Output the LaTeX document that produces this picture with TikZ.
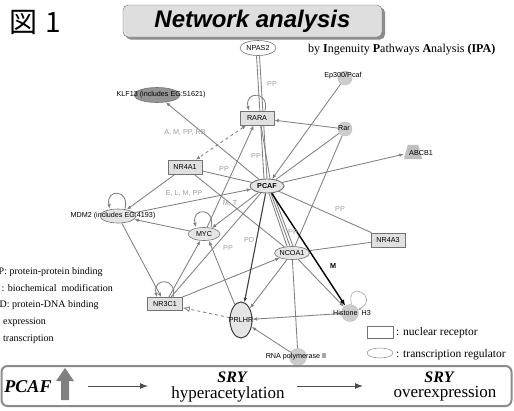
\documentclass[tikz,border=0pt]{standalone}
\usepackage{fontspec}
\setmainfont{Liberation Serif}
\setsansfont{Liberation Sans}
\newfontfamily\cjkfont{Noto Sans CJK JP}
\usetikzlibrary{shapes.geometric,arrows.meta}
\pgfdeclarelayer{bg}
\pgfdeclarelayer{paper}
\pgfsetlayers{paper,bg,main}
\begin{document}
\begin{tikzpicture}[x=1pt,y=-1pt,
  nfont/.style={font=\sffamily\fontsize{7.2}{8}\selectfont},
  nd/.style={nfont, draw=black!55, line width=0.6pt, inner sep=0pt},
  boxnd/.style={nd, rectangle, fill=black!12, minimum width=34pt, minimum height=14pt},
  ellnd/.style={nd, ellipse, fill=black!10, minimum width=32pt, minimum height=13pt},
  dotnd/.style={circle, fill=black!20, draw=black!25, minimum size=14pt, inner sep=0pt},
  lbl/.style={nfont, inner sep=0pt},
  elab/.style={font=\sffamily\fontsize{7.2}{8}\selectfont, text=black!38, inner sep=0pt},
  ed/.style={draw=black!50, line width=0.85pt},
  ar/.style={ed, -{Latex[length=4.5pt,width=3.6pt]}},
  legtxt/.style={font=\fontsize{10}{12}\selectfont, anchor=west, inner sep=0pt},
  legtxtr/.style={font=\fontsize{11.5}{13}\selectfont, anchor=west, inner sep=0pt},
  bigtxt/.style={font=\fontsize{17}{19}\selectfont, inner sep=0pt},
  srytxt/.style={font=\bfseries\itshape\fontsize{16}{18}\selectfont, inner sep=0pt},
  flow/.style={draw=black!70, line width=1pt, -{Latex[length=8pt,width=6pt]}}
]
\useasboundingbox (0,0) rectangle (514,410);
\begin{pgfonlayer}{paper}
\fill[white] (0,0) rectangle (514,410);
\end{pgfonlayer}

% header
\node[font=\cjkfont\fontsize{28}{30}\selectfont, anchor=west, inner sep=0pt] (fig) at (9,22) {図\hspace{8pt}1};
\fill[black!45, rounded corners=5pt] (125.5,7.5) rectangle (385,39.5);
\node[draw=black!55, fill=black!13, rounded corners=5pt, minimum width=259pt, minimum height=32pt, inner sep=0pt,
      font=\sffamily\bfseries\itshape\fontsize{24}{26}\selectfont] (title) at (252.5,21) {Network analysis};
\node[font=\fontsize{12}{14}\selectfont, anchor=west, inner sep=0pt] (ipa) at (308,50)
  {by \textbf{I}ngenuity \textbf{P}athways \textbf{A}nalysis \textbf{(IPA)}};

% network nodes
\node[nd, ellipse, fill=white, minimum width=36pt, minimum height=15pt] (npas) at (258,48) {NPAS2};
\node[nd, ellipse, fill=black!42, minimum width=46pt, minimum height=15pt] (klf) at (157,95) {};
\node[lbl] (klft) at (161,95) {KLF13 (includes EG:51621)};
\node[dotnd] (ep) at (345,78) {};
\node[lbl] (ept) at (343,76) {Ep300/Pcaf};
\node[boxnd] (rara) at (257,118) {RARA};
\node[dotnd] (rar) at (345,129) {};
\node[lbl] (rart) at (344,128) {Rar};
\node[minimum width=18pt, minimum height=14pt, inner sep=0pt] (abcb) at (413,152) {};
\fill[black!25] (abcb.south west) -- (abcb.south east) -- ([xshift=-4pt]abcb.north east) -- ([xshift=4pt]abcb.north west) -- cycle;
\node[lbl] (abcbt) at (421,153) {ABCB1};
\node[boxnd] (nra1) at (185,167) {NR4A1};
\node[ellnd, line width=0.9pt, minimum width=34pt, minimum height=14pt] (pcaf) at (267,186) {\textbf{PCAF}};
\node[nd, ellipse, fill=black!10, minimum width=36pt, minimum height=14pt] (mdm) at (118,216) {};
\node[lbl] (mdmt) at (113,216) {MDM2 (includes EG:4193)};
\node[ellnd] (myc) at (204,234) {MYC};
\node[ellnd, minimum width=34pt] (ncoa) at (292,253) {NCOA1};
\node[boxnd] (nra3) at (388,240) {NR4A3};
\node[boxnd, minimum width=35pt, minimum height=13pt] (nrc) at (165,304) {NR3C1};
\node[nd, ellipse, fill=black!10, draw=black!75, line width=1pt, minimum width=22pt, minimum height=36pt] (prl) at (241,320) {};
\node[lbl] (prlt) at (241,320) {PRLHR};
\node[dotnd, minimum size=17pt] (hist) at (350,313) {};
\node[lbl] (histt) at (352,313) {Histone\ \ H3};
\node[dotnd, minimum size=17pt] (rna) at (298,357) {};
\node[lbl] (rnat) at (296,357) {RNA polymerase II};

% edge labels
\node[elab] (l1) at (272,84) {PP};
\node[elab] (l2) at (185,132) {A, M, PP, RB};
\node[elab] (l3) at (256,156) {PP};
\node[elab] (l4) at (224,169) {PP};
\node[elab] (l5) at (184,193) {E, L, M, PP};
\node[elab] (l6) at (230,203) {M, T};
\node[elab] (l7) at (340,209) {PP};
\node[elab] (l8) at (293,232) {PP};
\node[elab] (l9) at (249,240) {PD};
\node[elab] (l10) at (228,248) {PP};
\node[font=\sffamily\bfseries\fontsize{7.2}{8}\selectfont, inner sep=0pt] (l11) at (333,266) {M};

\begin{pgfonlayer}{bg}
\draw[ed] ([xshift=-1.5pt]npas.south) -- ([xshift=-3pt]pcaf.north);
\draw[ed] ([xshift=1.5pt]npas.south) -- ([xshift=0pt]pcaf.north);
\draw[ar] ([xshift=8pt]rara.north) .. controls +(5,-20) and +(-5,-20) .. ([xshift=-8pt]rara.north);
\draw[ed] ([xshift=4pt]rara.south) -- ([xshift=3pt]pcaf.north);
\draw[ar] (pcaf) -- (klf);
\draw[ed, dashed, {Latex[length=4.5pt,width=3.6pt]}-{Latex[length=4.5pt,width=3.6pt]}] (rara) -- (nra1);
\draw[ar] (myc) -- (rara);
\draw[ar] (ep) -- (pcaf);
\draw[ar] (rar) -- (rara);
\draw[ed] (rar) -- (pcaf);
\draw[ed] (rar) -- (ncoa);
\draw[ar] (pcaf) -- (abcb);
\draw[ed] (pcaf) -- (nra3);
\draw[ed] (ncoa) -- (nra3);
\draw[ed] (nra1) -- (pcaf);
\draw[ar] (mdm) -- (pcaf);
\draw[ar] (nra1) -- (mdm);
\draw[ed] (nra1) -- (ncoa);
\draw[ar] ([xshift=7pt]mdm.north) .. controls +(5,-20) and +(-5,-20) .. ([xshift=-8pt]mdm.north);
\draw[ar] ([xshift=7pt]myc.north) .. controls +(5,-20) and +(-5,-20) .. ([xshift=-8pt]myc.north);
\draw[ar] ([xshift=8pt]nrc.north) .. controls +(5,-20) and +(-5,-20) .. ([xshift=-8pt]nrc.north);
\draw[ar] (myc) -- (mdm);
\draw[ar] (mdm) -- (nrc);
\draw[ar] (nrc) -- (myc);
\draw[ar] (prl) -- ([xshift=5pt]myc.south);
\draw[ar] (pcaf) -- (myc);
\draw[ar] (nrc) -- (ncoa);
\draw[ed] (nrc) -- (pcaf);
\draw[ar, draw=black!75, line width=1.1pt] (pcaf) -- (prl);
\draw[ed] ([xshift=2pt]pcaf.south) -- ([xshift=-5pt]ncoa.north);
\draw[ed] ([xshift=4pt]pcaf.south) -- ([xshift=-2pt]ncoa.north);
\draw[ed] ([xshift=6pt]pcaf.south) -- ([xshift=1pt]ncoa.north);
\draw[draw=black, line width=1.4pt, -{Latex[length=6pt,width=5pt]}] (pcaf) -- (hist);
\draw[ar] (ncoa) -- (hist);
\draw[ar] (ncoa) -- (prl);
\draw[ed] (ncoa) -- (rna);
\draw[ar] (rna) -- (prl);
\draw[ar] (hist) -- (prl);
\draw[ed, dashed, -{Latex[open,length=7pt,width=6pt]}] (prl) -- (nrc);
\draw[draw=black!35, line width=0.6pt, -{Latex[length=3pt,width=3pt]}] (hist.80) .. controls +(-6,-26) and +(22,-14) .. (hist.20);
\end{pgfonlayer}

% left legend
\node[legtxt] (lg1) at (-1.5,272) {P: protein-protein binding};
\node[legtxt] (lg2) at (1.5,288) {: biochemical\ \ modification};
\node[legtxt] (lg3) at (-0.5,305) {D: protein-DNA binding};
\node[legtxt] (lg4) at (3,322) {expression};
\node[legtxt] (lg5) at (3,339) {transcription};

% right legend
\node[draw=black!55, fill=white, minimum width=26pt, minimum height=12pt, inner sep=0pt] (lgbox) at (380,332) {};
\node[legtxtr] (lgboxt) at (396,333) {: nuclear receptor};
\node[draw=black!55, ellipse, fill=white, minimum width=26pt, minimum height=10pt, inner sep=0pt] (lgell) at (380,353) {};
\node[legtxtr] (lgellt) at (396,355) {: transcription regulator};

% bottom panel
\node[draw=black!45, line width=2pt, rounded corners=6pt, minimum width=510pt, minimum height=40pt, inner sep=0pt] (panel) at (256.5,386) {};
\node[font=\bfseries\itshape\fontsize{18}{20}\selectfont, inner sep=0pt] (pcaft) at (28,387) {PCAF};
\fill[black!50] (61,400) -- (61,381) -- (56,381) -- (65,368) -- (74,381) -- (69,381) -- (69,400) -- cycle;
\node[srytxt] (sry1) at (232,377) {SRY};
\node[bigtxt] (hyp) at (228,394) {hyperacetylation};
\node[srytxt] (sry2) at (439,377) {SRY};
\node[bigtxt] (ovx) at (445,394) {overexpression};
\coordinate (a1s) at (88,386);
\coordinate (a1e) at (148,386);
\coordinate (a2s) at (297,386);
\coordinate (a2e) at (363,386);
\draw[flow] (a1s) -- (a1e);
\draw[flow] (a2s) -- (a2e);
\end{tikzpicture}
\end{document}
